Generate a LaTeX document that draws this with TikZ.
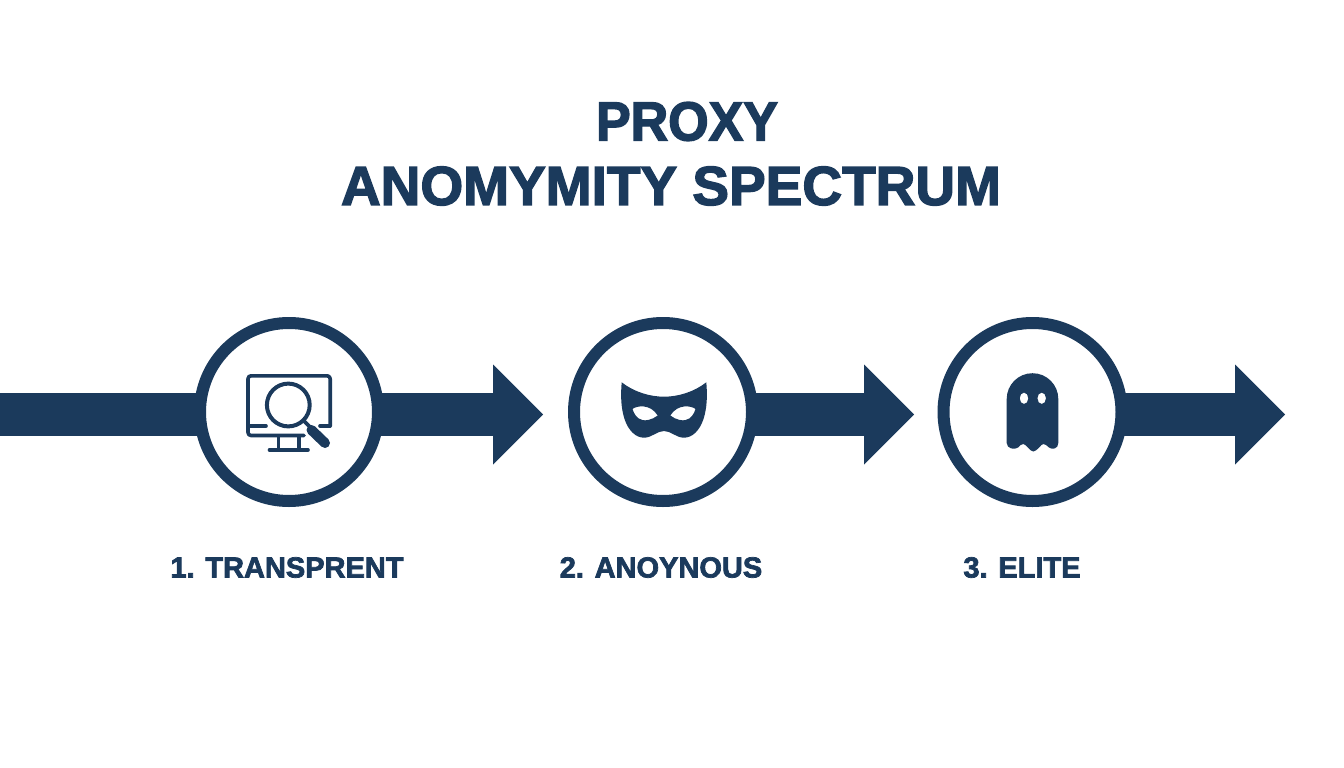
\documentclass[tikz,border=0pt]{standalone}
\usepackage{fontspec}
\setmainfont{Liberation Sans}
\usetikzlibrary{arrows.meta}
\definecolor{navy}{HTML}{1B3A5C}

\begin{document}
\begin{tikzpicture}[x=1pt,y=-1pt,
		ring/.style={draw=navy,fill=white,circle,line width=12pt,minimum size=178pt,inner sep=0pt,outer sep=0pt},
		bar/.style={draw=navy,line width=43pt,-{Triangle[length=50pt,width=100pt,line width=0pt,fill=navy]}},
		heading/.style={text=navy,font=\bfseries\fontsize{55}{60}\selectfont\addfontfeature{FakeBold=2.5}},
		steplabel/.style={text=navy,font=\bfseries\fontsize{29}{34}\selectfont\addfontfeature{FakeBold=2.5}},
		icon/.style={draw=navy,line width=3.6pt,line cap=round,line join=round}]
	\useasboundingbox (0,0) rectangle (1344,768);
	
	\node[heading] (title1) at (687,121.5) {\addfontfeature{FakeStretch=0.945}PROXY};
	\node[heading] (title2) at (671,186) {ANOMYMITY SPECTRUM};
	
	\coordinate (start) at (0,414.5);
	\coordinate (tip1) at (543,414.5);
	\coordinate (tip2) at (914,414.5);
	\coordinate (tip3) at (1285,414.5);
	
	\node[ring] (c1) at (289,412) {};
	\node[ring] (c2) at (663,412) {};
	\node[ring] (c3) at (1032.5,412) {};
	
	\draw[navy,line width=43pt,shorten >=-2pt] (start) -- (c1.west |- start);  % lead-in
	\foreach \u\v in {c1/tip1, c2/tip2, c3/tip3}
	{	\draw[bar,shorten <=-2pt] (\u.east |- \v) -- (\v);}
	
	\node[steplabel] (l1) at (287,567.5) {1. TRANSPRENT};
	\node[steplabel] (l2) at (661,567.5) {2. ANOYNOUS};
	\node[steplabel] (l3) at (1022,567.5) {3. ELITE};
	
	% monitor
	\draw[icon,rounded corners=3pt] (304,435.5) -- (248,435.5) -- (248,375.8) -- (330.2,375.8) -- (330.2,426);
	\draw[icon] (248,426) -- (266,426) (320,426) -- (330,426);
	\draw[icon] (278.5,437) -- (278.5,449) (299,437) -- (299,449);
	\draw[icon] (269.5,450) -- (308,450);
	\draw[icon,line width=4pt] (288.3,405) circle (21.4);
	\draw[icon] (303.5,420.5) -- (311,428);
	\draw[icon,line width=10pt] (311.5,430) -- (325,443);
	
	% mask
	\fill[navy,even odd rule] (621.7,382.3)
		.. controls (634,392) and (650,396.7) .. (664,396.7)
		.. controls (678,396.7) and (694,392) .. (706.3,382.3)
		.. controls (707.5,396) and (707,408) .. (703.5,419)
		.. controls (699.5,431) and (692,437.7) .. (684,437.7)
		.. controls (676,437.7) and (671,431) .. (664,431)
		.. controls (657,431) and (652,437.7) .. (644,437.7)
		.. controls (636,437.7) and (628.5,431) .. (624.5,419)
		.. controls (621,408) and (620.5,396) .. (621.7,382.3) -- cycle
		(632.5,409) .. controls (636,406) and (650,403) .. (657.7,415.5)
		.. controls (652,420) and (645,421) .. (642.5,420)
		.. controls (637,419) and (634,414) .. (632.5,409) -- cycle
		(695.5,409) .. controls (692,406) and (678,403) .. (670.3,415.5)
		.. controls (676,420) and (683,421) .. (685.5,420)
		.. controls (691,419) and (694,414) .. (695.5,409) -- cycle;
	
	% ghost
	\fill[navy,even odd rule] (1006.7,399)
		arc[start angle=180,end angle=360,radius=25.8] -- (1058.3,443)
		.. controls (1058.3,449) and (1052,450) .. (1049,447.5)
		.. controls (1047,445.5) and (1045,444) .. (1043.3,444)
		.. controls (1041,444) and (1037,451.5) .. (1033.3,451.5)
		.. controls (1030,451.5) and (1026,444) .. (1023.3,444)
		.. controls (1021.5,444) and (1020,445.5) .. (1018,447.5)
		.. controls (1015,450) and (1006.7,449) .. (1006.7,443) -- cycle
		(1024,398.3) ellipse (4.3 and 5.7)
		(1041.7,398.3) ellipse (4.3 and 5.7);
\end{tikzpicture}
\end{document}
